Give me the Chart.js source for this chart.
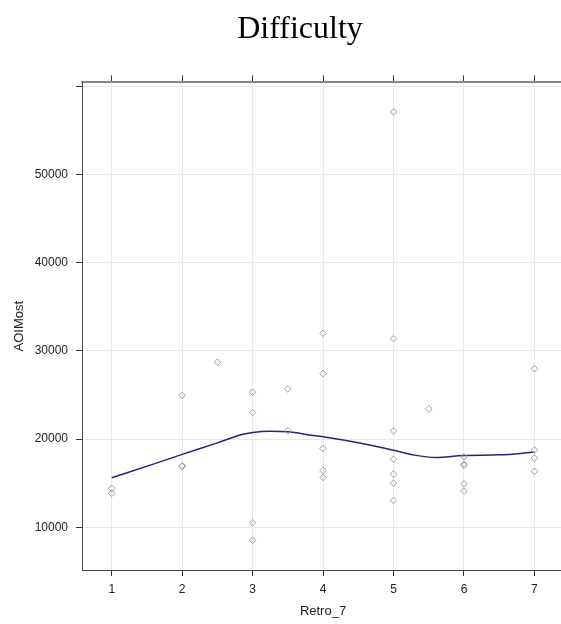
<!DOCTYPE html>
<html>
<head>
<meta charset="utf-8">
<script src="https://cdn.jsdelivr.net/npm/chart.js@4"></script>
<style>
  body { margin: 0; overflow: hidden; background: #fff; }
</style>
</head>
<body>
<canvas id="grafico" width="600" height="624"></canvas>
<script>
// Retro_7 vs AOIMost, scatter points
const pontosX = [1, 1, 2, 2, 2, 2.5, 3, 3, 3, 3, 3.5, 3.5, 4, 4, 4, 4, 4, 5, 5, 5, 5, 5, 5, 5, 5.5, 6, 6, 6, 6, 6, 7, 7, 7, 7];
const pontosY = [14420, 13850, 24950, 16900, 17000, 28720, 25320, 23020, 10520, 8530, 25700, 20940,
                 32000, 27440, 18950, 16450, 15660, 57110, 31400, 20940, 17730, 16040, 15020, 13060,
                 23430, 18000, 17170, 17020, 14940, 14110, 28000, 18750, 17850, 16340];

// smoother curve
const curvaX = [1, 1.59, 2, 2.5, 2.85, 3, 3.25, 3.5, 3.83, 4, 4.5, 5, 5.3, 5.6, 6, 6.5, 7];
const curvaY = [15620, 17170, 18270, 19580, 20530, 20760, 20900, 20830, 20450, 20260, 19580, 18750, 18190, 17930, 18150, 18220, 18530];

const xTicks = [1, 2, 3, 4, 5, 6, 7];
const yTicks = [10000, 20000, 30000, 40000, 50000, 60000];

let pontos = pontosX.map((x, i) => ({ x: x, y: pontosY[i] }));
let curva = curvaX.map((x, i) => ({ x: x, y: curvaY[i] }));

const fonteTick = { family: 'Liberation Sans, Arial', size: 12 };
const gridCor = '#e8e8e8';

var ctx = document.getElementById('grafico').getContext('2d');

var meugrafico = new Chart(ctx, {
    type: 'scatter',
    data: {
        datasets: [{
            label: 'pontos',
            data: pontos,
            pointStyle: 'rectRot',
            pointRadius: 3.3,
            borderWidth: 1,
            borderColor: '#a0a0a0',
            backgroundColor: 'rgba(0,0,0,0)'
        }, {
            type: 'line',
            label: 'curva',
            data: curva,
            borderColor: '#24247e',
            borderWidth: 1.5,
            pointRadius: 0,
            cubicInterpolationMode: 'monotone',
            fill: false
        }]
    },
    options: {
        responsive: false,
        animation: false,
        layout: { padding: 0 },
        scales: {
            x: {
                type: 'linear',
                position: 'bottom',
                min: 0.578,
                max: 7.42,
                afterBuildTicks: s => { s.ticks = xTicks.map(v => ({ value: v })); },
                afterFit: s => { s.height = 54; },
                ticks: { color: '#222', font: fonteTick, padding: 6 },
                grid: { color: gridCor, tickColor: '#333', tickLength: 6 },
                border: { color: '#444', width: 1 },
                title: {
                    display: true,
                    text: 'Retro_7',
                    color: '#222',
                    font: { family: 'Liberation Sans, Arial', size: 13 },
                    padding: { top: 0, bottom: 5 }
                }
            },
            x2: {
                type: 'linear',
                position: 'top',
                min: 0.578,
                max: 7.42,
                afterBuildTicks: s => { s.ticks = xTicks.map(v => ({ value: v })); },
                afterFit: s => { s.height = 34; },
                ticks: { color: 'rgba(0,0,0,0)', font: fonteTick },
                grid: { drawOnChartArea: false, tickColor: '#333', tickLength: 7 },
                border: { color: '#8a8a8a', width: 2 }
            },
            y: {
                type: 'linear',
                position: 'left',
                min: 5164,
                max: 60450,
                afterBuildTicks: s => { s.ticks = yTicks.map(v => ({ value: v })); },
                afterFit: s => { s.width = 82; },
                ticks: {
                    color: '#222',
                    font: fonteTick,
                    padding: 8,
                    callback: v => (v >= 60000 ? '' : String(v))
                },
                grid: { color: gridCor, tickColor: '#333', tickLength: 6 },
                border: { color: '#444', width: 1 },
                title: {
                    display: true,
                    text: 'AOIMost',
                    color: '#222',
                    font: { family: 'Liberation Sans, Arial', size: 13 },
                    padding: { top: 12, bottom: 0 }
                }
            },
            // empty right side, the plot runs past the picture edge
            y2: {
                type: 'linear',
                position: 'right',
                min: 5164,
                max: 60450,
                afterFit: s => { s.width = 36; },
                ticks: { display: false },
                grid: { display: false },
                border: { display: false }
            }
        },
        plugins: {
            legend: { display: false },
            tooltip: { enabled: false },
            title: {
                display: true,
                text: 'Difficulty',
                color: '#000',
                font: { family: 'Liberation Serif, Times New Roman', size: 32, weight: 'normal' },
                padding: { top: 10, bottom: 0 }
            }
        }
    }
});
</script>
</body>
</html>
